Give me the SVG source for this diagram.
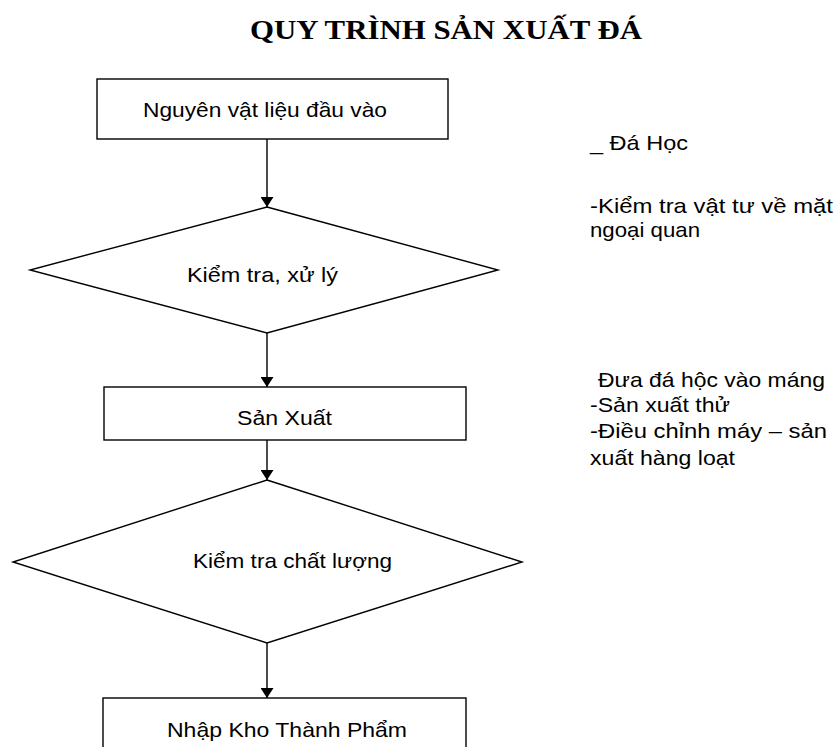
<svg xmlns="http://www.w3.org/2000/svg" width="837" height="747" viewBox="0 0 837 747">
<style>
.shape{fill:#fff;stroke:#000;stroke-width:1.4}
.lbl{font-family:"Liberation Sans",Arial,sans-serif;font-size:21px;fill:#000}
.note{font-family:"Liberation Sans",Arial,sans-serif;font-size:21px;fill:#000}
.title{font-family:"Liberation Serif","Times New Roman",serif;font-size:27px;font-weight:bold;fill:#000}
.conn{stroke:#000;stroke-width:1.4;fill:none;marker-end:url(#arr)}
</style>
<defs>
<marker id="arr" viewBox="0 0 10 13" refX="10" refY="6.5" markerWidth="10" markerHeight="13" markerUnits="userSpaceOnUse" orient="auto">
<path d="M0,0 L10,6.5 L0,13 Z" fill="#000"/>
</marker>
</defs>
<rect width="837" height="747" fill="#fff"/>
<text class="title" x="250" y="39" textLength="392" lengthAdjust="spacingAndGlyphs">QUY TRÌNH SẢN XUẤT ĐÁ</text>

<g id="connectors">
<line class="conn" x1="267" y1="139" x2="267" y2="207"/>
<line class="conn" x1="267" y1="333" x2="267" y2="387"/>
<line class="conn" x1="267" y1="440" x2="267" y2="480"/>
<line class="conn" x1="267" y1="643" x2="267" y2="698"/>
</g>

<g id="n1">
<rect class="shape" x="97" y="79" width="351" height="60"/>
<text class="lbl" x="143" y="117" textLength="244" lengthAdjust="spacingAndGlyphs">Nguyên vật liệu đầu vào</text>
</g>
<g id="n2">
<polygon class="shape" points="267,207 498,270 267,333 30,270"/>
<text class="lbl" x="187" y="282" textLength="151" lengthAdjust="spacingAndGlyphs">Kiểm tra, xử lý</text>
</g>
<g id="n3">
<rect class="shape" x="104" y="387" width="362" height="53"/>
<text class="lbl" x="237" y="425" textLength="95" lengthAdjust="spacingAndGlyphs">Sản Xuất</text>
</g>
<g id="n4">
<polygon class="shape" points="267,480 522,562 267,643 13,562"/>
<text class="lbl" x="193" y="568" textLength="199" lengthAdjust="spacingAndGlyphs">Kiểm tra chất lượng</text>
</g>
<g id="n5">
<rect class="shape" x="103" y="698" width="363" height="70"/>
<text class="lbl" x="167" y="737" textLength="240" lengthAdjust="spacingAndGlyphs">Nhập Kho Thành Phẩm</text>
</g>

<g id="notes">
<text class="note" x="590" y="150" textLength="98" lengthAdjust="spacingAndGlyphs">_ Đá Học</text>
<text class="note" x="590" y="213" textLength="243" lengthAdjust="spacingAndGlyphs">-Kiểm tra vật tư về mặt</text>
<text class="note" x="590" y="237" textLength="110" lengthAdjust="spacingAndGlyphs">ngoại quan</text>
<text class="note" x="598" y="387" textLength="227" lengthAdjust="spacingAndGlyphs">Đưa đá hộc vào máng</text>
<text class="note" x="590" y="412" textLength="140" lengthAdjust="spacingAndGlyphs">-Sản xuất thử</text>
<text class="note" x="590" y="438" textLength="237" lengthAdjust="spacingAndGlyphs">-Điều chỉnh máy – sản</text>
<text class="note" x="590" y="465" textLength="145" lengthAdjust="spacingAndGlyphs">xuất hàng loạt</text>
</g>
</svg>
